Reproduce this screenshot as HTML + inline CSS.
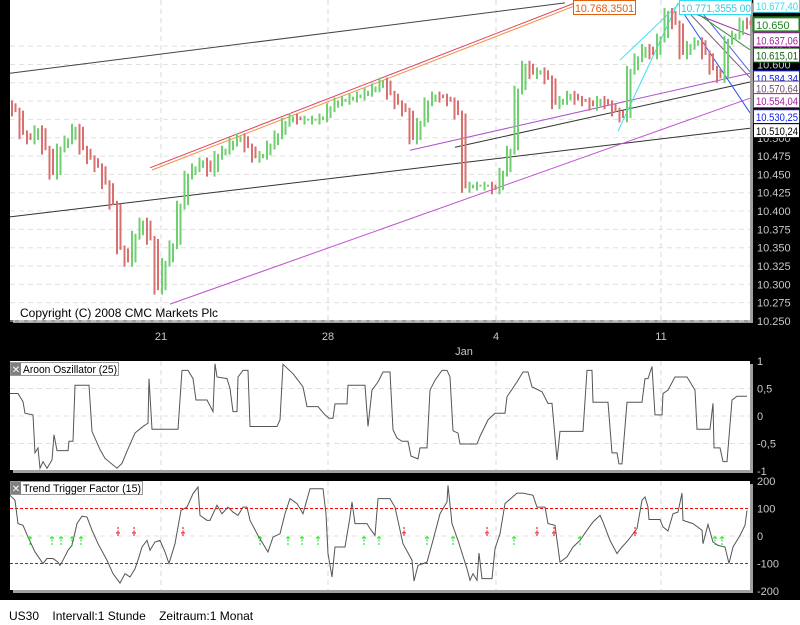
<!DOCTYPE html>
<html><head><meta charset="utf-8">
<style>
html,body{margin:0;padding:0;background:#fff;}
svg{display:block;font-family:"Liberation Sans",sans-serif;}
</style></head>
<body>
<svg id="chart" width="800" height="625" viewBox="0 0 800 625" xmlns="http://www.w3.org/2000/svg">
<rect x="0" y="0" width="800" height="600" fill="#000"/>
<rect x="0" y="600" width="800" height="25" fill="#fff"/>
<text x="9" y="620" font-size="12" fill="#000" xml:space="preserve">US30    Intervall:1 Stunde    Zeitraum:1 Monat</text>
<rect x="13" y="3" width="740" height="320" fill="#a0a0a0"/>
<rect x="10" y="0" width="740" height="320" fill="#fff"/>
<rect x="13" y="364" width="740" height="109" fill="#a0a0a0"/>
<rect x="10" y="361" width="740" height="109" fill="#fff"/>
<rect x="13" y="484" width="740" height="109" fill="#a0a0a0"/>
<rect x="10" y="481" width="740" height="109" fill="#fff"/>
<g id="grid"></g>
<g id="trendlines"></g>
<g id="candles"></g>
<g id="aroon"></g>
<g id="ttf"></g>
<g id="axes"></g>
<text x="20" y="317" font-size="12" fill="#000">Copyright (C) 2008 CMC Markets Plc</text>
<g>
<rect x="10.5" y="362.5" width="108" height="13" fill="#fff" stroke="#999"/>
<rect x="11" y="363" width="10" height="12" fill="#808080"/>
<text x="16" y="373" font-size="10" fill="#fff" text-anchor="middle">✕</text>
<text x="23" y="373" font-size="11" fill="#000" textLength="94" lengthAdjust="spacingAndGlyphs">Aroon Oszillator (25)</text>
</g>
<g>
<rect x="10.5" y="481.5" width="132" height="13" fill="#fff" stroke="#999"/>
<rect x="11" y="482" width="10" height="12" fill="#808080"/>
<text x="16" y="492" font-size="10" fill="#fff" text-anchor="middle">✕</text>
<text x="23" y="492" font-size="11" fill="#000" textLength="118" lengthAdjust="spacingAndGlyphs">Trend Trigger Factor (15)</text>
</g>
<g id="labels"></g>
</svg>
<script>
// ---- data ----
const priceCloses = [10.535,10.504,10.497,10.511,10.483,10.449,10.486,10.497,10.513,10.483,10.470,10.459,10.436,10.408,10.347,10.330,10.367,10.385,10.360,10.292,10.330,10.354,10.408,10.449,10.459,10.467,10.453,10.476,10.483,10.494,10.500,10.486,10.472,10.476,10.490,10.504,10.521,10.527,10.524,10.524,10.524,10.527,10.541,10.549,10.551,10.554,10.557,10.562,10.568,10.576,10.558,10.545,10.535,10.497,10.521,10.549,10.557,10.554,10.549,10.531,10.431,10.434,10.434,10.434,10.429,10.453,10.483,10.565,10.599,10.586,10.590,10.579,10.545,10.551,10.558,10.551,10.549,10.543,10.551,10.545,10.535,10.527,10.592,10.609,10.622,10.613,10.636,10.671,10.654,10.613,10.626,10.631,10.613,10.592,10.581,10.633,10.640,10.658,10.654];
const aroonT = [0,8,13,15,23,25,28,30,33,37,42,44,47,58,59,63,65,79,82,90,95,107,112,117,125,133,138,139,142,168,172,178,183,186,197,203,205,207,217,220,223,227,228,233,238,240,267,270,273,283,293,297,308,315,319,323,325,337,338,355,358,362,368,373,375,380,383,387,392,398,401,408,410,417,420,425,432,437,440,443,448,450,467,470,478,485,495,497,507,513,518,522,532,538,542,547,550,573,577,582,583,598,602,607,609,612,617,632,635,638,642,645,652,653,658,665,677,685,687,700,703,704,710,713,717,722,727,737];
const aroonV = [0.41,0.41,0.26,0.05,0.02,-0.67,-0.58,-0.95,-0.83,-0.95,-0.8,-0.34,-0.63,-0.63,-0.46,-0.46,0.56,0.56,-0.28,-0.61,-0.77,-0.95,-0.86,-0.64,-0.31,-0.19,-0.13,0.68,-0.24,-0.24,0.83,0.83,0.68,0.29,0.29,0.08,0.95,0.71,0.68,0.5,0.08,0.08,0.71,0.83,0.83,-0.19,-0.19,-0.07,0.94,0.77,0.53,0.17,0.17,0.02,-0.04,-0.04,0.22,0.22,0.56,0.56,-0.19,0.47,0.62,0.8,0.8,0.8,-0.25,-0.4,-0.46,-0.46,-0.73,-0.78,-0.58,-0.58,0.47,0.65,0.83,0.83,0.71,-0.27,-0.31,-0.51,-0.51,-0.37,-0.07,0.05,0.05,0.35,0.62,0.8,0.8,0.53,0.44,0.23,0.23,-0.8,-0.28,-0.28,0.83,0.83,0.25,0.25,-0.67,-0.67,-0.87,-0.87,0.25,0.25,0.68,0.68,0.9,0.02,0.02,0.41,0.47,0.71,0.71,0.47,-0.24,-0.24,0.23,-0.58,-0.58,-0.83,-0.83,0.29,0.36,0.36];
const ttfT = [0,5,8,13,18,25,33,37,43,48,50,53,58,62,67,72,77,82,88,97,103,110,115,120,125,128,132,137,140,145,150,155,159,165,171,177,183,188,190,197,200,207,212,218,223,228,233,237,240,248,253,258,263,270,275,280,287,293,300,313,316,318,322,325,335,340,342,345,357,360,365,368,370,380,385,393,402,404,408,417,423,430,437,438,442,448,457,460,463,467,469,472,482,485,490,495,507,513,523,527,535,538,545,550,557,563,570,577,583,590,593,600,607,612,618,627,632,635,638,639,650,653,658,663,668,672,673,683,692,693,698,703,708,715,719,723,730,735,737];
const ttfV = [148,130,45,39,-4,-58,-100,-82,-82,-95,-107,-88,-52,-34,45,72,69,21,-28,-88,-137,-171,-137,-149,-119,-88,-40,-16,-52,-22,-16,-58,-100,-28,93,105,154,178,75,57,57,112,81,105,87,75,105,105,57,2,-28,-58,-4,8,81,136,118,81,172,172,81,-64,-149,-40,-40,69,124,45,45,27,2,136,136,136,105,-28,-88,-164,-107,-95,-16,81,124,184,45,-16,-119,-161,-137,-161,-62,-155,-155,-46,8,118,156,156,148,105,105,45,39,-95,-76,-40,-16,21,51,75,51,-16,-64,-40,-16,27,130,142,105,60,60,33,18,81,87,156,57,45,21,-28,42,-22,-34,-40,-100,-40,2,39,93];
const buySignalsT = [20,42,51,62,71,250,278,292,308,354,369,417,443,504,570,705,712];
const sellSignalsT = [108,124,173,394,477,527,544,625];
const priceTicks = [10.250,10.275,10.300,10.325,10.350,10.375,10.400,10.425,10.450,10.475,10.500,10.525,10.550,10.575,10.600,10.625];
const priceTickLabels = ["10.250","10.275","10.300","10.325","10.350","10.375","10.400","10.425","10.450","10.475","10.500","10.525","10.550","10.575","10.600","10.625"];
const aroonTicks = [1,0.5,0,-0.5,-1];
const aroonTickLabels = ["1","0,5","0","-0,5","-1"];
const ttfTicks = [200,100,0,-100,-200];
const ttfTickLabels = ["200","100","0","-100","-200"];
const dateTicksT = [151,318,486,651];
const dateTickLabels = ["21","28","4","11"];
const trendT1 = [0,140,142,0,160,400,445,608,610,670,690,670,690,680];
const trendP1 = [10.588,10.459,10.456,10.392,10.273,10.483,10.487,10.509,10.606,10.677,10.674,10.677,10.667,10.669];
const trendT2 = [555,565,565,740,740,740,740,668,670,740,740,740,740,740];
const trendP2 = [10.684,10.684,10.680,10.513,10.554,10.588,10.576,10.684,10.684,10.534,10.590,10.640,10.620,10.582];
const trendColors = ["#444","#e04060","#f09040","#333","#c050d0","#b050d0","#333","#40e0f0","#40e0f0","#3050f0","#5060f0","#a040a0","#409040","#806080"];
const valueBoxLabels = ["10.677,40","10.650","10.637,06","10.615,01","10.584,34","10.570,64","10.554,04","10.530,25","10.510,24"];
const valueBoxPrices = [10.680,10.654,10.633,10.612,10.581,10.567,10.550,10.528,10.509];
const valueBoxColors = ["#30e0f0","#208020","#a020a0","#106010","#1020f0","#705070","#a020a0","#1020f0","#000"];

// ---- scales ----
const X = t => 10 + t;
const YP = p => 321 - (p - 10.25) * 733;
const YA = v => 416 - v * 55;
const YT = v => 536 - v * 0.275;
const NS = "http://www.w3.org/2000/svg";
function mk(tag, attrs, parent){ const e=document.createElementNS(NS,tag); for(const k in attrs) e.setAttribute(k,attrs[k]); parent.appendChild(e); return e; }

const grid = document.getElementById('grid');
priceTicks.forEach(p => {
  const l = mk('line',{x1:10,x2:750,y1:YP(p),y2:YP(p),stroke:'#e0e0e0','stroke-dasharray':'5,4'},grid);
  
  
});
aroonTicks.slice(1,4).forEach(v => {
  const l = mk('line',{x1:10,x2:750,y1:YA(v),y2:YA(v),stroke:'#e0e0e0','stroke-dasharray':'5,4'},grid);
  
  
});
const z = mk('line',{x1:10,x2:750,y1:YT(0),y2:YT(0),stroke:'#e0e0e0','stroke-dasharray':'5,4'},grid);


[100,-100].forEach(v => {
  const l = mk('line',{x1:10,x2:750,y1:YT(v),y2:YT(v),stroke:'#f00','stroke-dasharray':'3,2','stroke-width':1},grid);
  
  
});
dateTicksT.forEach(t => {
  [[0,320],[361,470],[481,590]].forEach(r => {
    const l = mk('line',{x1:X(t),x2:X(t),y1:r[0],y2:r[1],stroke:'#d8d8d8','stroke-dasharray':'5,4'},grid);
    
    
  });
});

const tl = document.getElementById('trendlines');
trendT1.forEach((t,i) => {
  const l = mk('line',{x1:X(t),y1:YP(trendP1[i]),x2:X(trendT2[i]),y2:YP(trendP2[i]),stroke:trendColors[i],'stroke-width':1},tl);
  
  
});

const cg = document.getElementById('candles');
priceCloses.forEach((c,i) => {
  const o = i === 0 ? c + 0.01 : priceCloses[i-1];
  const hi = Math.max(o,c) + 0.006, lo = Math.min(o,c) - 0.006;
  const t = 2 + 7.5*i;
  const col = c >= o ? '#70d070' : '#d87070';
  const r = mk('rect',{x:X(t)-1,y:YP(hi),width:2,height:Math.max(2,YP(lo)-YP(hi)),fill:col},cg);
  
  
  const r2 = mk('rect',{x:X(t)+2.5,y:YP(Math.max(o,c)+0.002),width:2,height:Math.max(2,YP(Math.min(o,c))-YP(Math.max(o,c)+0.002)),fill:col},cg);
  
  
});

const ag = document.getElementById('aroon');
const ap = mk('polyline',{points:aroonT.map((t,i)=>X(t)+','+YA(aroonV[i])).join(' '),fill:'none',stroke:'#555','stroke-width':1},ag);



const tg = document.getElementById('ttf');
const tp = mk('polyline',{points:ttfT.map((t,i)=>X(t)+','+YT(ttfV[i])).join(' '),fill:'none',stroke:'#555','stroke-width':1},tg);


buySignalsT.forEach(t => {
  const g = mk('g',{},tg);
  
  
  mk('line',{x1:X(t)-2,x2:X(t)+2,y1:YT(0)+2,y2:YT(0)+2,stroke:'#00e000'},g);
  mk('line',{x1:X(t),x2:X(t),y1:YT(0),y2:YT(0)+9,stroke:'#00e000','stroke-dasharray':'2,1.5'},g);
});
sellSignalsT.forEach(t => {
  const g = mk('g',{},tg);
  
  
  mk('line',{x1:X(t)-2,x2:X(t)+2,y1:YT(0)-3,y2:YT(0)-3,stroke:'#f00000'},g);
  mk('line',{x1:X(t),x2:X(t),y1:YT(0)-9,y2:YT(0),stroke:'#f00000','stroke-dasharray':'2,1.5'},g);
});

const ax = document.getElementById('axes');
priceTicks.forEach((p,i) => {
  const e = mk('text',{x:757,y:YP(p)+4,'font-size':11,fill:'#c8c8c8'},ax);
  e.textContent = priceTickLabels[i];
  
  
});
aroonTicks.forEach((v,i) => {
  const e = mk('text',{x:757,y:YA(v)+4,'font-size':11,fill:'#c8c8c8'},ax);
  e.textContent = aroonTickLabels[i];
  
  
});
ttfTicks.forEach((v,i) => {
  const e = mk('text',{x:757,y:YT(v)+4,'font-size':11,fill:'#c8c8c8'},ax);
  e.textContent = ttfTickLabels[i];
  
  
});
dateTicksT.forEach((t,i) => {
  const e = mk('text',{x:X(t),y:340,'font-size':11,fill:'#c8c8c8','text-anchor':'middle'},ax);
  e.textContent = dateTickLabels[i];
  
  
});
const jan = mk('text',{x:464,y:355,'font-size':11,fill:'#c8c8c8','text-anchor':'middle'},ax);
jan.textContent = 'Jan';



const lg = document.getElementById('labels');
valueBoxLabels.forEach((s,i) => {
  const y = YP(valueBoxPrices[i]);
  const g = mk('g',{},lg);
  
  
  mk('rect',{x:753.5,y:y-7.5,width:46,height:14,fill:'#fff',stroke:valueBoxColors[i],'stroke-width':i===1?2:1},g);
  const attrs = {x:756,y:y+4,'font-size':11,fill:valueBoxColors[i]};
  if (s.length > 6) { attrs.textLength = 42; attrs.lengthAdjust = 'spacingAndGlyphs'; }
  const e = mk('text',attrs,g);
  e.textContent = s;
});
const top1 = mk('g',{},lg);


mk('rect',{x:573.5,y:0.5,width:62,height:14,fill:'#fff',stroke:'#e06010'},top1);
const t1 = mk('text',{x:575,y:12,'font-size':11,fill:'#e06010',textLength:59,lengthAdjust:'spacingAndGlyphs'},top1); t1.textContent='10.768,3501';
const top2 = mk('g',{},lg);


mk('rect',{x:679.5,y:0.5,width:72,height:14,fill:'#fff',stroke:'#30e0f0'},top2);
const t2 = mk('text',{x:681,y:12,'font-size':11,fill:'#30c8e0',textLength:70,lengthAdjust:'spacingAndGlyphs'},top2); t2.textContent='10.771,3555 00';
</script>
</body></html>
